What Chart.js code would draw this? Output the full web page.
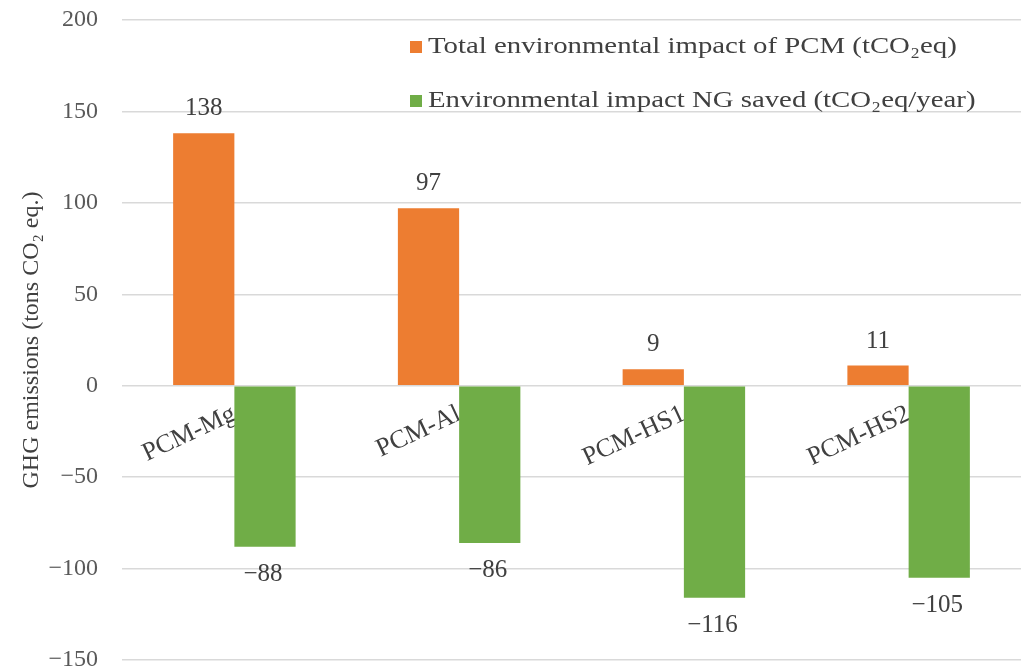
<!DOCTYPE html>
<html>
<head>
<meta charset="utf-8">
<script src="https://cdn.jsdelivr.net/npm/chart.js@4.4.1/dist/chart.umd.min.js"></script>
<style>
  html, body { margin: 0; padding: 0; background: #ffffff; }
  #wrap { width: 1033px; height: 668px; }
</style>
</head>
<body>
<div id="wrap"><canvas id="c" width="1033" height="668"></canvas></div>
<script>
const categories = ['PCM-Mg', 'PCM-Al', 'PCM-HS1', 'PCM-HS2'];
const pcmImpact = [138, 97, 9, 11];
const ngSaved = [-88, -86, -116, -105];
const seriesLabels = ['Total environmental impact of PCM (tCO\u2082eq)', 'Environmental impact NG saved (tCO\u2082eq/year)'];
const yTicks = [-150, -100, -50, 0, 50, 100, 150, 200];
const axisTitle = 'GHG emissions (tons CO\u2082 eq.)';

const FONT = '"Liberation Serif", "DejaVu Serif", serif';
const TEXT = '#404040';
const fmt = v => (v < 0 ? '\u2212' + Math.abs(v) : String(v));

const valueLabels = {
  id: 'valueLabels',
  afterDatasetsDraw(chart) {
    const ctx = chart.ctx;
    ctx.save();
    ctx.font = '25px ' + FONT;
    ctx.fillStyle = TEXT;
    ctx.textAlign = 'center';
    chart.data.datasets.forEach((ds, i) => {
      chart.getDatasetMeta(i).data.forEach((bar, j) => {
        const v = ds.data[j];
        if (v >= 0) {
          ctx.textBaseline = 'bottom';
          ctx.fillText(fmt(v), bar.x, bar.y - 12);
        } else {
          ctx.textBaseline = 'top';
          ctx.fillText(fmt(v), bar.x - 2, bar.y + 15);
        }
      });
    });
    ctx.restore();
  }
};

const innerLegend = {
  id: 'innerLegend',
  afterDraw(chart) {
    const ctx = chart.ctx;
    const x0 = 410, ys = [47, 101], stretch = 1.2;
    chart.data.datasets.forEach((ds, i) => {
      ctx.save();
      ctx.fillStyle = ds.backgroundColor;
      ctx.fillRect(x0, ys[i] - 6, 12, 12);
      ctx.translate(x0 + 18, ys[i]);
      ctx.scale(stretch, 1);
      ctx.font = '24px ' + FONT;
      ctx.textBaseline = 'middle';
      ctx.textAlign = 'left';
      ctx.fillStyle = TEXT;
      ctx.fillText(ds.label, 0, 0);
      ctx.restore();
    });
  }
};

new Chart(document.getElementById('c'), {
  type: 'bar',
  data: {
    labels: categories,
    datasets: [
      { label: seriesLabels[0], data: pcmImpact, backgroundColor: '#ED7D31', categoryPercentage: 0.545, barPercentage: 1.0 },
      { label: seriesLabels[1], data: ngSaved, backgroundColor: '#70AD47', categoryPercentage: 0.545, barPercentage: 1.0 }
    ]
  },
  options: {
    responsive: false,
    animation: false,
    layout: { padding: { left: 17, right: 12, top: 20, bottom: 8 } },
    plugins: { legend: { display: false }, tooltip: { enabled: false } },
    scales: {
      x: {
        position: { y: 0 },
        grid: { display: false },
        border: { display: false },
        ticks: {
          autoSkip: false, minRotation: 25, maxRotation: 25, padding: 5,
          color: TEXT, font: { family: FONT, size: 26 }
        }
      },
      y: {
        min: yTicks[0], max: yTicks[yTicks.length - 1],
        afterBuildTicks(s) { s.ticks = yTicks.map(v => ({ value: v })); },
        afterFit(s) { s.width = 105; s.paddingTop = 0; s.paddingBottom = 0; },
        grid: { color: '#d9d9d9', lineWidth: 1.5, drawTicks: true, tickLength: 22, tickColor: 'rgba(0,0,0,0)' },
        border: { display: false },
        ticks: { padding: 2, color: '#595959', font: { family: FONT, size: 24 }, callback: v => fmt(v) },
        title: { display: true, text: axisTitle, color: TEXT, font: { family: FONT, size: 24 }, padding: { top: 0, bottom: 0 } }
      }
    }
  },
  plugins: [valueLabels, innerLegend]
});
</script>
</body>
</html>
